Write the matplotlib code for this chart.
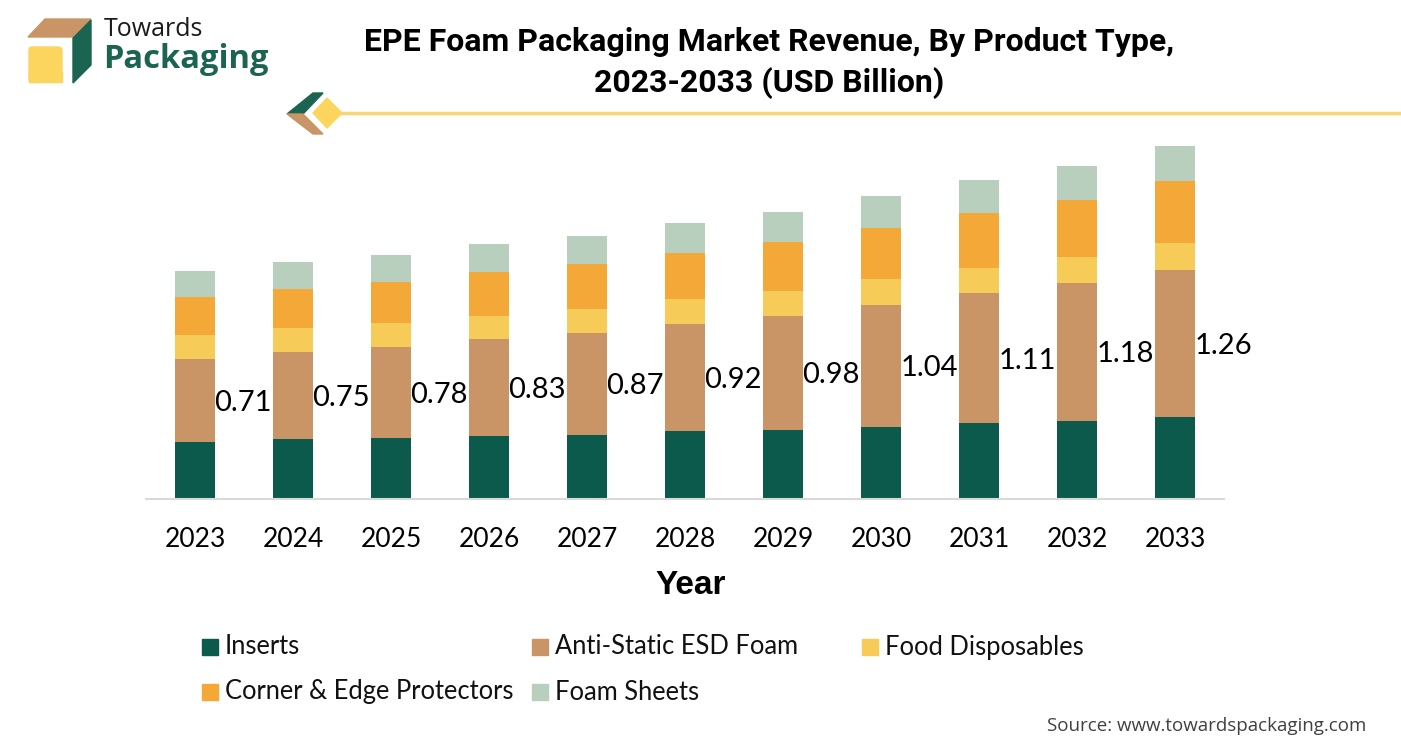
import matplotlib
matplotlib.use("Agg")
import matplotlib.pyplot as plt
from matplotlib.patches import Polygon, Rectangle, FancyBboxPatch
import numpy as np

# ---------------- data ----------------
years = ["2023", "2024", "2025", "2026", "2027", "2028", "2029", "2030", "2031", "2032", "2033"]
series_names = ["Inserts", "Anti-Static ESD Foam", "Food Disposables",
                "Corner & Edge Protectors", "Foam Sheets"]
inserts = [0.49, 0.51, 0.52, 0.54, 0.55, 0.58, 0.59, 0.62, 0.65, 0.67, 0.70]
anti_static = [0.71, 0.75, 0.78, 0.83, 0.87, 0.92, 0.98, 1.04, 1.11, 1.18, 1.26]
food_disposables = [0.20, 0.20, 0.21, 0.20, 0.21, 0.21, 0.21, 0.22, 0.22, 0.22, 0.23]
corner_edge = [0.33, 0.34, 0.35, 0.37, 0.38, 0.40, 0.42, 0.44, 0.47, 0.49, 0.53]
foam_sheets = [0.22, 0.23, 0.23, 0.24, 0.24, 0.25, 0.26, 0.27, 0.28, 0.29, 0.30]
colors = ["#0b5a4b", "#c99566", "#f6cb58", "#f4a838", "#b9cfbe"]

W, H = 1401, 751
fig = plt.figure(figsize=(W / 100, H / 100), dpi=100)
fig.patch.set_facecolor("white")

def fx(px):
    return px / W

def fy(py):
    return 1 - py / H

# ---------------- main axes ----------------
ax_left, ax_right, ax_bottom, ax_top = 146, 1224, 499, 140
ax = fig.add_axes([fx(ax_left), fy(ax_bottom), (ax_right - ax_left) / W, (ax_bottom - ax_top) / H])
x = np.arange(len(years))
ax.set_xlim(-0.5, len(years) - 0.5)
ax.set_ylim(0, (ax_bottom - ax_top) / 116.8)

stack = [inserts, anti_static, food_disposables, corner_edge, foam_sheets]
bottom = np.zeros(len(years))
for vals, c, name in zip(stack, colors, series_names):
    ax.bar(x, vals, width=0.405, bottom=bottom, color=c, label=name, zorder=2)
    if name == "Anti-Static ESD Foam":
        for xi, b, v in zip(x, bottom, vals):
            ax.text(xi + 0.2, b + v / 2 - 0.02, f"{v:.2f}", ha="left", va="center",
                    fontsize=21, family="Lato", color="black")
    bottom = bottom + np.array(vals)

for s in ["top", "right", "left"]:
    ax.spines[s].set_visible(False)
ax.spines["bottom"].set_color("#d9d9d9")
ax.spines["bottom"].set_linewidth(1.5)
ax.set_yticks([])
ax.set_xticks(x)
ax.set_xticklabels(years, fontsize=19, family="Lato")
ax.tick_params(axis="x", length=0, pad=20)

fig.text(fx(691), fy(585), "Year", ha="center", va="center", fontsize=24,
         fontweight="bold", family="Liberation Sans")

# ---------------- overlay for decorations ----------------
ov = fig.add_axes([0, 0, 1, 1], zorder=-1)
ov.set_xlim(0, W)
ov.set_ylim(H, 0)
ov.axis("off")

# logo
ov.add_patch(Polygon([(28, 37), (45, 19), (91, 19), (72, 37)], closed=True, color="#c99566"))
ov.add_patch(Polygon([(73, 38), (91, 20), (91, 65), (73, 83)], closed=True, color="#1b6452"))
ov.add_patch(FancyBboxPatch((29, 47), 33, 35, boxstyle="round,pad=0,rounding_size=4",
                            color="#fcd55f"))
ov.add_patch(Rectangle((29, 47), 10, 35, color="#fcd55f"))
ov.add_patch(Rectangle((29, 72), 33, 10, color="#fcd55f"))
ov.text(104, 29, "Towards", ha="left", va="center", fontsize=18, family="Open Sans",
        color="#1a1a1a")
ov.text(103, 59, "Packaging", ha="left", va="center", fontsize=23.5, family="Open Sans",
        fontweight="bold", color="#1b6452")

# title
fig.text(fx(769), fy(42), "EPE Foam Packaging Market Revenue, By Product Type,",
         ha="center", va="center", fontsize=23, fontweight="bold", family="Roboto")
fig.text(fx(769), fy(83), "2023-2033 (USD Billion)",
         ha="center", va="center", fontsize=23, fontweight="bold", family="Roboto")

# decorative chevron + diamond + line
ov.plot([340, W], [113, 113], color="#f6d776", lw=2.5, solid_capstyle="butt")
ov.add_patch(Polygon([(287, 114), (313, 93), (323, 93), (303, 114)], closed=True, color="#1b6452"))
ov.add_patch(Polygon([(287, 114), (303, 114), (323, 134), (313, 134)], closed=True, color="#c99566"))
ov.add_patch(Polygon([(313, 113), (327, 98), (342, 113), (327, 128)], closed=True, color="#fcd55f"))

# legend (manual layout, Excel-style columns)
leg_pos = [(202, 647), (532, 647), (862, 647), (202, 692), (532, 692)]
for (lx, ly), name, c in zip(leg_pos, series_names, colors):
    ov.add_patch(Rectangle((lx, ly - 8), 16, 16, color=c))
    ov.text(lx + 23, ly, name, ha="left", va="center", fontsize=18.4, family="Lato",
            color="#111111")

# source
fig.text(fx(1366), fy(726), "Source: www.towardspackaging.com", ha="right", va="center",
         fontsize=13.5, family="Open Sans", color="#404040")

fig.savefig("out.png", dpi=100, facecolor="white")
